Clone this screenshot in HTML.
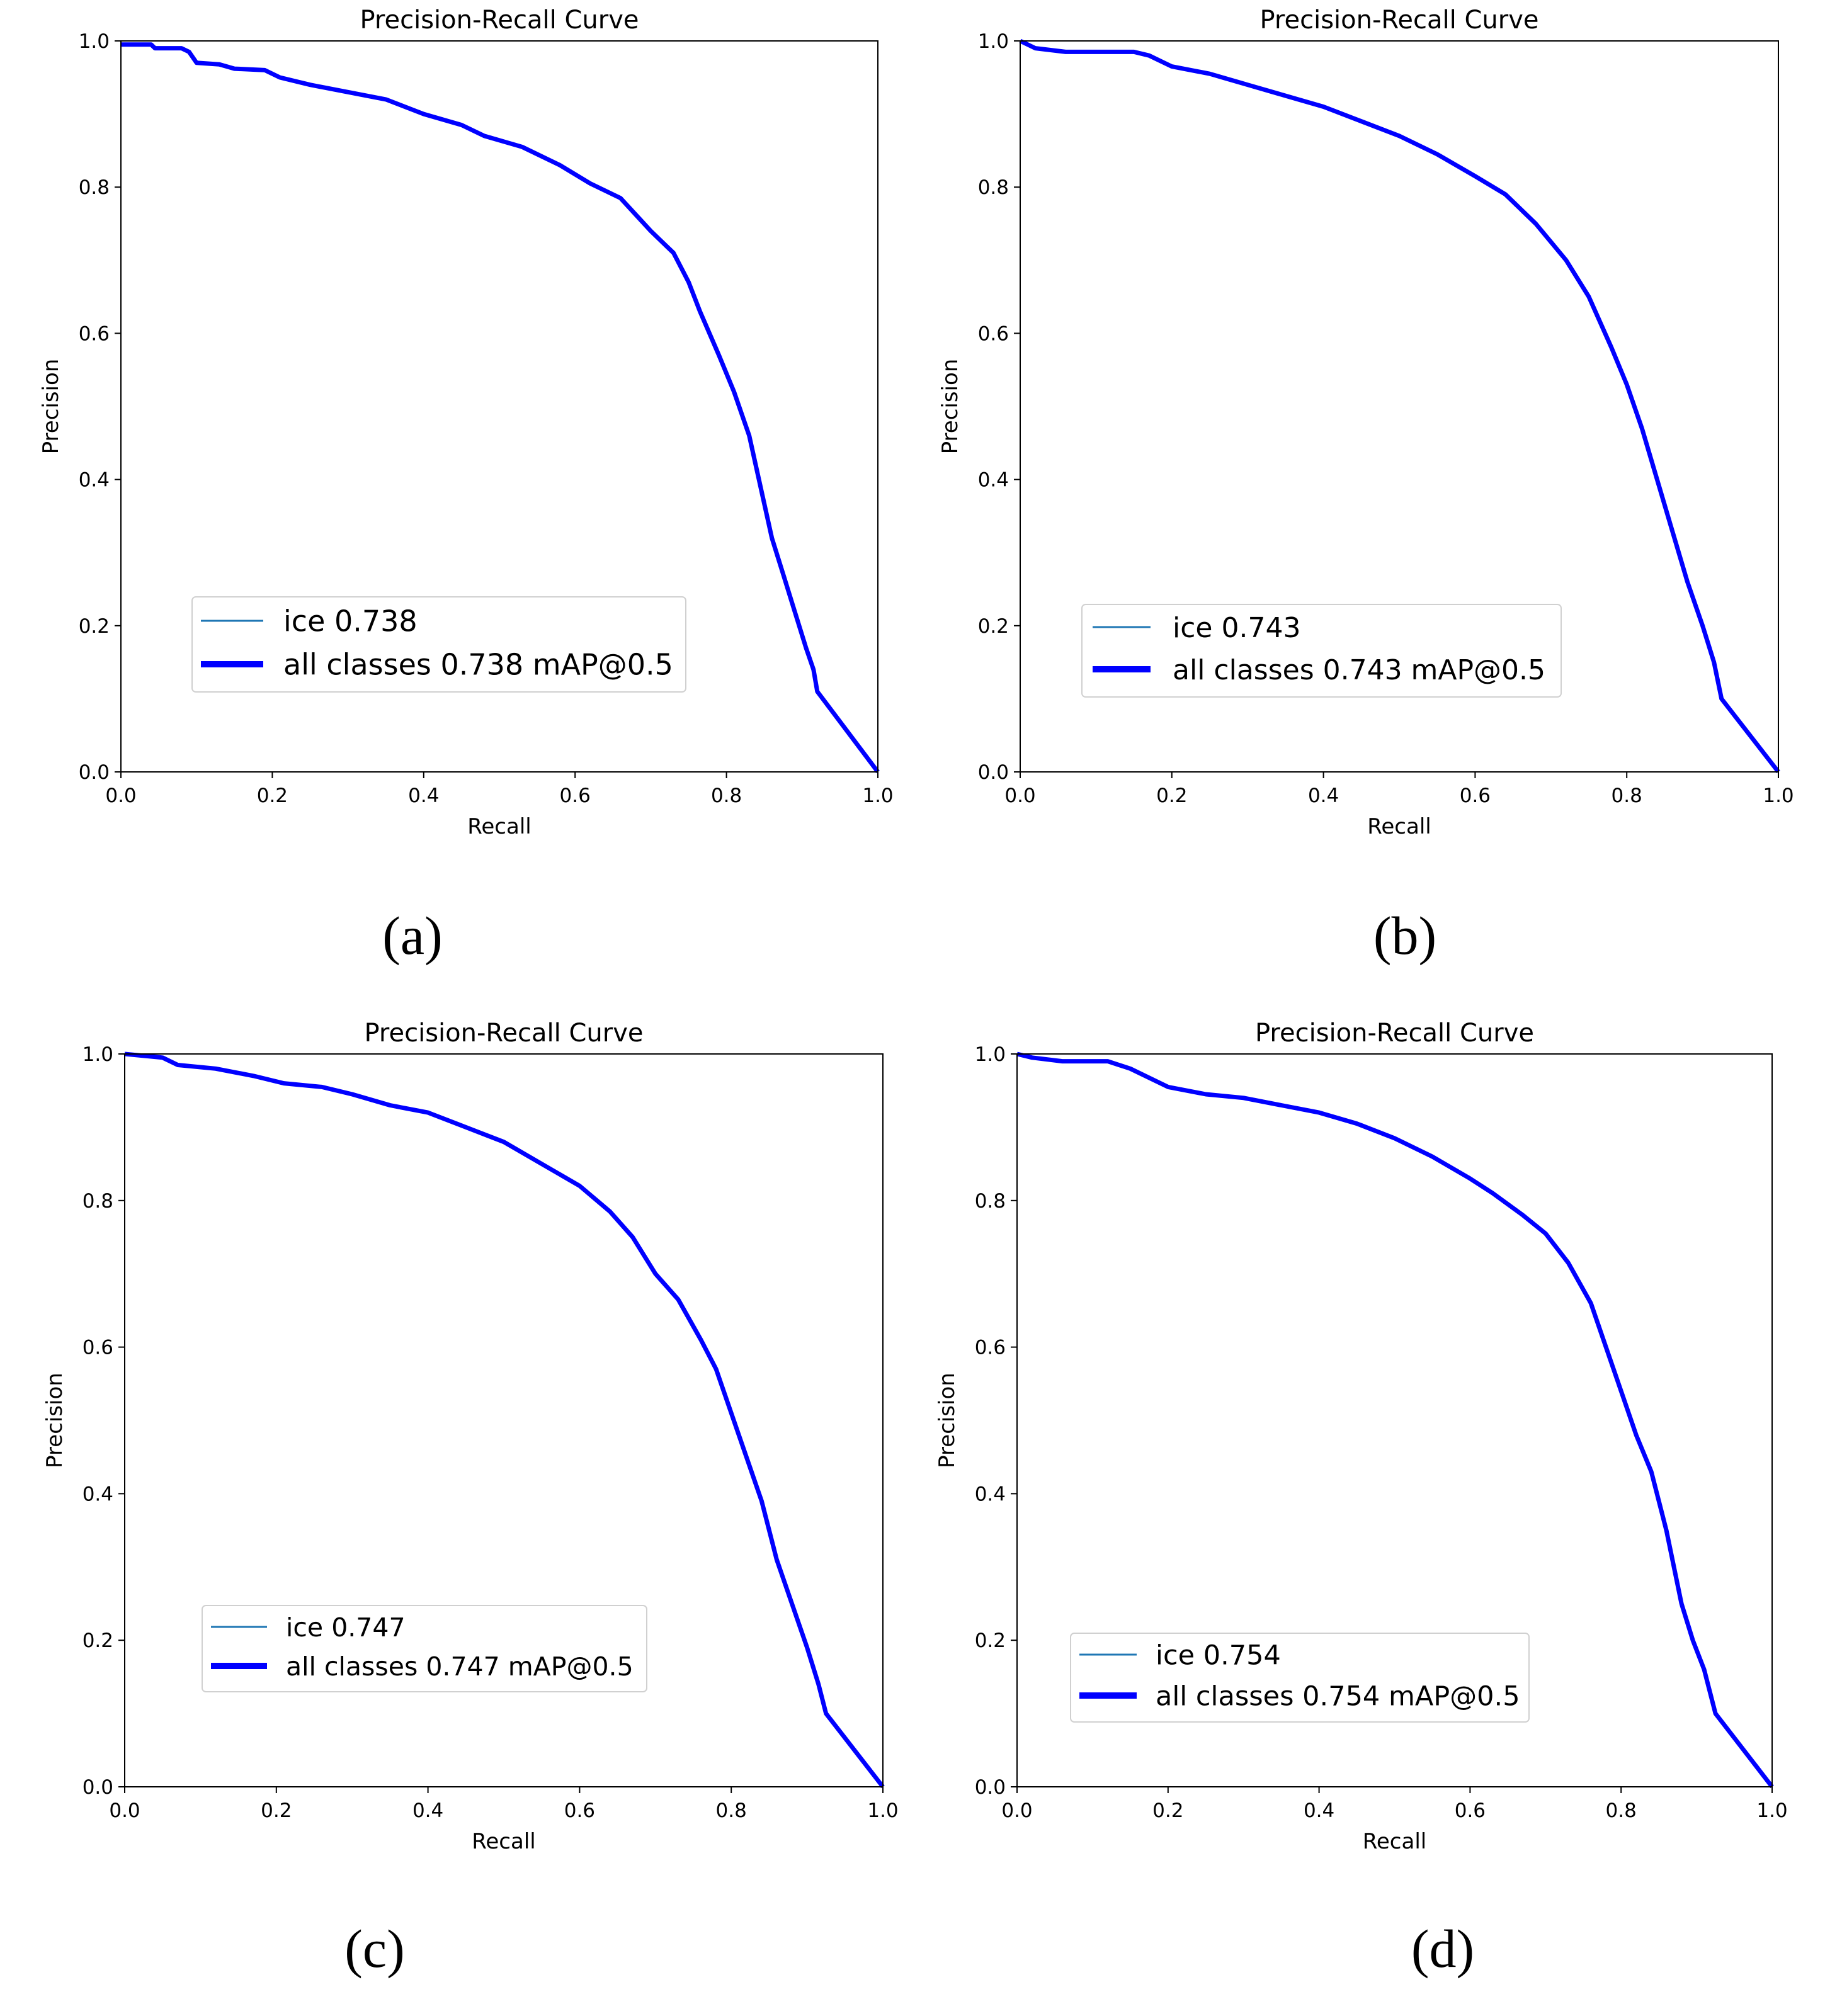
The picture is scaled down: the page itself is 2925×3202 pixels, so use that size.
<!DOCTYPE html>
<html><head><meta charset="utf-8">
<style>
html,body{margin:0;padding:0;background:#fff;}
svg{display:block;font-family:"DejaVu Sans","Liberation Sans",sans-serif;}
</style></head>
<body>
<svg id="fig" width="2925" height="3202" viewBox="0 0 2925 3202" xmlns="http://www.w3.org/2000/svg"></svg>
<script>
const ticks = [0, 0.2, 0.4, 0.6, 0.8, 1.0];
const tickLabels = ["0.0", "0.2", "0.4", "0.6", "0.8", "1.0"];
const recallA = [0,0.04,0.045,0.08,0.09,0.1,0.13,0.15,0.19,0.21,0.25,0.3,0.35,0.4,0.45,0.48,0.53,0.58,0.62,0.66,0.7,0.73,0.75,0.765,0.79,0.81,0.83,0.845,0.86,0.875,0.89,0.905,0.915,0.92,1.0];
const precisionA = [0.995,0.995,0.99,0.99,0.985,0.97,0.968,0.962,0.96,0.95,0.94,0.93,0.92,0.9,0.885,0.87,0.855,0.83,0.805,0.785,0.74,0.71,0.67,0.63,0.57,0.52,0.46,0.39,0.32,0.27,0.22,0.17,0.14,0.11,0.0];
const recallB = [0,0.02,0.06,0.15,0.17,0.2,0.25,0.3,0.35,0.4,0.45,0.5,0.55,0.6,0.64,0.68,0.72,0.75,0.78,0.8,0.82,0.84,0.86,0.88,0.9,0.915,0.925,1];
const precisionB = [1,0.99,0.985,0.985,0.98,0.965,0.955,0.94,0.925,0.91,0.89,0.87,0.845,0.815,0.79,0.75,0.7,0.65,0.58,0.53,0.47,0.4,0.33,0.26,0.2,0.15,0.1,0];
const recallC = [0,0.05,0.07,0.12,0.17,0.21,0.26,0.3,0.35,0.4,0.45,0.5,0.55,0.6,0.64,0.67,0.7,0.73,0.76,0.78,0.8,0.82,0.84,0.86,0.88,0.9,0.915,0.925,1];
const precisionC = [1,0.995,0.985,0.98,0.97,0.96,0.955,0.945,0.93,0.92,0.9,0.88,0.85,0.82,0.785,0.75,0.7,0.665,0.61,0.57,0.51,0.45,0.39,0.31,0.25,0.19,0.14,0.1,0];
const recallD = [0,0.02,0.06,0.12,0.15,0.2,0.25,0.3,0.35,0.4,0.45,0.5,0.55,0.6,0.63,0.67,0.7,0.73,0.76,0.78,0.8,0.82,0.84,0.86,0.87,0.88,0.895,0.91,0.925,1];
const precisionD = [1,0.995,0.99,0.99,0.98,0.955,0.945,0.94,0.93,0.92,0.905,0.885,0.86,0.83,0.81,0.78,0.755,0.715,0.66,0.6,0.54,0.48,0.43,0.35,0.3,0.25,0.2,0.16,0.1,0];
const scores = ["0.738", "0.743", "0.747", "0.754"];
const panelLetters = ["(a)", "(b)", "(c)", "(d)"];

const NS = "http://www.w3.org/2000/svg";
const svg = document.getElementById('fig');
function mk(tag, attrs, parent){ const e=document.createElementNS(NS,tag); for(const k in attrs) e.setAttribute(k,attrs[k]); (parent||svg).appendChild(e); return e; }

const panels = [
 {L:192,R:1394,T:65,B:1226, rec:recallA, pre:precisionA, lg:{x:305,y:948,w:784,h:151,r1:986,r2:1055,lx1:319,lx2:418,tx:450,fs:46}, lab:{x:655,y:1487}},
 {L:1620,R:2824,T:65,B:1226, rec:recallB, pre:precisionB, lg:{x:1718,y:960,w:761,h:147,r1:996,r2:1063,lx1:1735,lx2:1827,tx:1862,fs:44}, lab:{x:2231,y:1487}},
 {L:198,R:1402,T:1674,B:2838, rec:recallC, pre:precisionC, lg:{x:321,y:2550,w:706,h:137,r1:2584,r2:2646,lx1:335,lx2:424,tx:454,fs:41}, lab:{x:595,y:3096}},
 {L:1615,R:2814,T:1674,B:2838, rec:recallD, pre:precisionD, lg:{x:1700,y:2594,w:728,h:141,r1:2628,r2:2693,lx1:1714,lx2:1805,tx:1835,fs:43}, lab:{x:2291,y:3096}}
];

panels.forEach((p,i)=>{
  const g = mk('g',{});
  
  
  const sx = v => p.L + v*(p.R-p.L);
  const sy = v => p.B - v*(p.B-p.T);
  // curve
  let d = p.rec.map((r,k)=>(k?'L':'M')+sx(r).toFixed(1)+' '+sy(p.pre[k]).toFixed(1)).join(' ');
  const thin = mk('path',{d:d,fill:'none',stroke:'#1f77b4','stroke-width':2},g);
  
  
  const c = mk('path',{d:d,fill:'none',stroke:'#0000ff','stroke-width':7,'stroke-linejoin':'round'},g);
  
  
  // axes frame
  const fr = mk('rect',{x:p.L,y:p.T,width:p.R-p.L,height:p.B-p.T,fill:'none',stroke:'#000','stroke-width':2},g);
  
  
  ticks.forEach((t,k)=>{
    mk('line',{x1:sx(t),x2:sx(t),y1:p.B,y2:p.B+10,stroke:'#000','stroke-width':2},g);
    const xt = mk('text',{x:sx(t),y:p.B+48,'font-size':31,'text-anchor':'middle',fill:'#000'},g);
    xt.textContent = tickLabels[k];
    
    
    mk('line',{x1:p.L-10,x2:p.L,y1:sy(t),y2:sy(t),stroke:'#000','stroke-width':2},g);
    const yt = mk('text',{x:p.L-18,y:sy(t)+11,'font-size':31,'text-anchor':'end',fill:'#000'},g);
    yt.textContent = tickLabels[k];
    
    
  });
  const cx = (p.L+p.R)/2;
  const tt = mk('text',{x:cx,y:p.T-20,'font-size':40,'text-anchor':'middle',fill:'#000'},g);
  tt.textContent = 'Precision-Recall Curve';
  
  
  const xl = mk('text',{x:cx,y:p.B+98,'font-size':34,'text-anchor':'middle',fill:'#000'},g);
  xl.textContent = 'Recall';
  
  
  const cy = (p.T+p.B)/2;
  const yl = mk('text',{x:p.L-100,y:cy,'font-size':34,'text-anchor':'middle',fill:'#000',transform:'rotate(-90 '+(p.L-100)+' '+cy+')'},g);
  yl.textContent = 'Precision';
  
  
  // legend
  const lg = p.lg;
  const lgG = mk('g',{},g);
  
  
  mk('rect',{x:lg.x,y:lg.y,width:lg.w,height:lg.h,rx:6,fill:'#fff','fill-opacity':0.8,stroke:'#d0d0d0','stroke-width':2},lgG);
  mk('line',{x1:lg.lx1,x2:lg.lx2,y1:lg.r1,y2:lg.r1,stroke:'#1f77b4','stroke-width':3},lgG);
  const t1 = mk('text',{x:lg.tx,y:lg.r1+lg.fs*0.36,'font-size':lg.fs,fill:'#000'},lgG);
  t1.textContent = 'ice ' + scores[i];
  
  
  mk('line',{x1:lg.lx1,x2:lg.lx2,y1:lg.r2,y2:lg.r2,stroke:'#0000ff','stroke-width':10},lgG);
  const t2 = mk('text',{x:lg.tx,y:lg.r2+lg.fs*0.36,'font-size':lg.fs,fill:'#000'},lgG);
  t2.textContent = 'all classes ' + scores[i] + ' mAP@0.5';
  
  
  const pl = mk('text',{x:p.lab.x,y:p.lab.y+28,'font-size':86,'text-anchor':'middle',fill:'#000','font-family':'"Liberation Serif", serif'});
  pl.textContent = panelLetters[i];
  
  
});
</script>
</body></html>
